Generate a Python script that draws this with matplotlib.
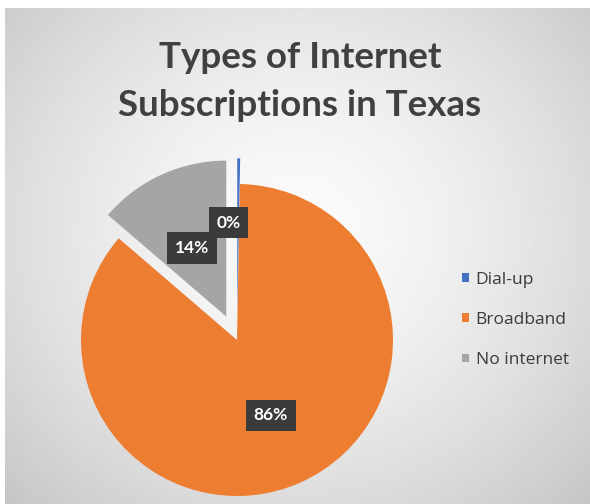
import numpy as np
import matplotlib.pyplot as plt

# internet subscription types, share of households (%)
categories = ['Dial-up', 'Broadband', 'No internet']
shares = [0.3, 86.0, 13.7]
colors = ['#4472C4', '#ED7D31', '#A5A5A5']

title = 'Types of Internet\nSubscriptions in Texas'

W, H = 590, 504
fig = plt.figure(figsize=(W / 100, H / 100), dpi=100)
fig.patch.set_facecolor('white')

# chart area with a soft radial gradient
bg = fig.add_axes([5 / W, 0, 585 / W, 496 / H])
bg.set_axis_off()
xx, yy = np.meshgrid(np.linspace(0, 1, 300), np.linspace(0, 1, 260))
dx = (xx - 0.5) / 0.5
dy = (yy - 0.45) / 0.55
r = np.sqrt(dx ** 2 + dy ** 2) / np.sqrt(2)
shade = np.clip(0.985 - 0.21 * r ** 1.5, 0, 1)
bg.imshow(shade, cmap='gray', vmin=0, vmax=1, extent=(0, 1, 1, 0),
          aspect='auto', interpolation='bilinear')
bg.set_xlim(0, 1)
bg.set_ylim(1, 0)

# baseline of the last title line
fig.text(300 / W, 1 - 116 / H, title, ha='center', va='baseline',
         fontsize=26.5, fontweight='bold', family='Lato', color='#404040',
         linespacing=1.55)

# pie: one unit = 156 px
ax = fig.add_axes([81 / W, 8 / H, 312 / W, 312 / H])
wedges, _, pcts = ax.pie(
    shares, colors=colors, startangle=90, counterclock=False,
    explode=[0.165, 0, 0.165], autopct='%1.0f%%',
    wedgeprops=dict(clip_on=False, linewidth=0),
    textprops=dict(clip_on=False))
ax.set_xlim(-1, 1)
ax.set_ylim(-1, 1)
ax.set_aspect('equal')

label_r = [0.59, 0.53, 0.49]
label_nudge = [6, 0, 2]
for w, t, rr, nd in zip(wedges, pcts, label_r, label_nudge):
    mid = np.deg2rad((w.theta1 + w.theta2) / 2 + nd)
    cx, cy = w.center
    t.set_position((cx + rr * np.cos(mid), cy + rr * np.sin(mid)))
    t.set_family('Lato')
    t.set_fontweight('bold')
    t.set_fontsize(12.5)
    t.set_color('white')
    t.set_bbox(dict(boxstyle='square,pad=0.45', fc='#3b3b3b', ec='none'))

leg = fig.legend(wedges, categories, loc='upper left',
                 bbox_to_anchor=(446 / W, 1 - 256 / H), frameon=False,
                 prop=dict(family='Open Sans', size=12.5),
                 handlelength=0.4, handleheight=0.4, handletextpad=0.4,
                 labelspacing=1.4)
for t in leg.get_texts():
    t.set_color('#3a3a3a')

fig.savefig('out.png', dpi=100)
